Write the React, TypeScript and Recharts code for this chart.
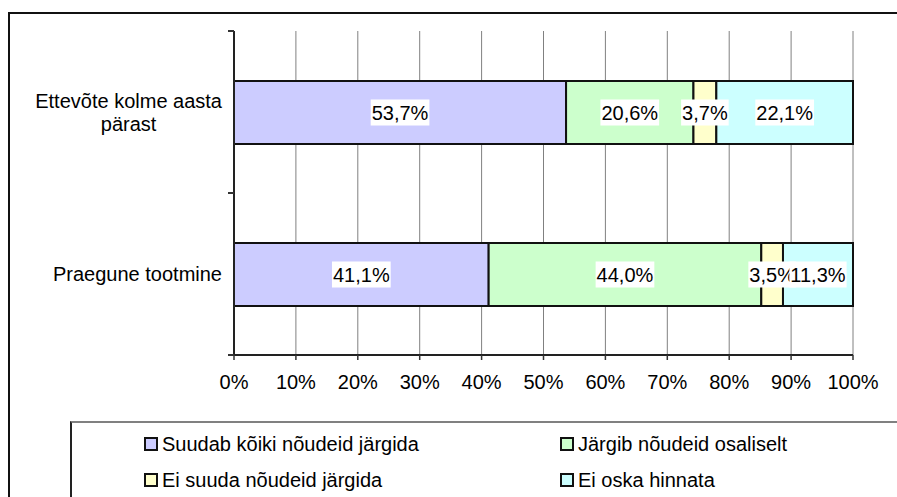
import { BarChart, Bar, XAxis, YAxis, CartesianGrid, LabelList } from "recharts";

const categories = ["Ettevõte kolme aasta pärast", "Praegune tootmine"];
const suudab = [53.7, 41.1];
const jargib = [20.6, 44.0];
const eiSuuda = [3.7, 3.5];
const eiOska = [22.1, 11.3];
const xTicks = [0, 0.1, 0.2, 0.3, 0.4, 0.5, 0.6, 0.7, 0.8, 0.9, 1];

const series = [
  { key: "suudab", name: "Suudab kõiki nõudeid järgida", color: "#CCCCFF", values: suudab },
  { key: "jargib", name: "Järgib nõudeid osaliselt", color: "#CCFFCC", values: jargib },
  { key: "eiSuuda", name: "Ei suuda nõudeid järgida", color: "#FFFFCC", values: eiSuuda },
  { key: "eiOska", name: "Ei oska hinnata", color: "#CCFFFF", values: eiOska },
];

const data = categories.map((name, i) => {
  const row: any = { name };
  series.forEach((s) => (row[s.key] = s.values[i]));
  return row;
});

const FONT = '"Liberation Sans", Arial, sans-serif';
const FS = 20;

const ctx = typeof document !== "undefined" ? document.createElement("canvas").getContext("2d") : null;
function textWidth(s: string) {
  if (!ctx) return s.length * FS * 0.5;
  ctx.font = `${FS}px ${FONT}`;
  return ctx.measureText(s).width;
}

function wrap(s: string, max: number) {
  const words = s.split(" ");
  const lines: string[] = [];
  let cur = "";
  words.forEach((w) => {
    const next = cur ? cur + " " + w : w;
    if (cur && textWidth(next) > max) {
      lines.push(cur);
      cur = w;
    } else cur = next;
  });
  if (cur) lines.push(cur);
  return lines;
}

const fmt = (v: number) => v.toFixed(1).replace(".", ",") + "%";

function CategoryTick(props: any) {
  const { x, y, payload } = props;
  const lines = wrap(payload.value, 200);
  const w = Math.max(...lines.map(textWidth));
  const cx = x - w / 2;
  const lh = 23;
  const y0 = y - ((lines.length - 1) * lh) / 2;
  return (
    <g>
      <line x1={x + 6} x2={x + 12} y1={y - 81} y2={y - 81} stroke="#333" strokeWidth={2} />
      <line x1={x + 6} x2={x + 12} y1={y + 81} y2={y + 81} stroke="#333" strokeWidth={2} />
      <text x={cx} y={y0} textAnchor="middle" fontFamily={FONT} fontSize={FS} fill="#000">
        {lines.map((l, i) => (
          <tspan key={i} x={cx} y={y0 + i * lh} dy="0.35em">
            {l}
          </tspan>
        ))}
      </text>
    </g>
  );
}

function SegmentLabel(props: any) {
  const { x, y, width, height, value } = props;
  const s = fmt(Number(value));
  const w = textWidth(s) + 2;
  const cx = x + width / 2;
  const cy = y + height / 2;
  return (
    <g>
      <rect x={cx - w / 2} y={cy - 13} width={w} height={26} fill="#fff" />
      <text x={cx} y={cy} dy="0.35em" textAnchor="middle" fontFamily={FONT} fontSize={FS} fill="#000">
        {s}
      </text>
    </g>
  );
}

const legendCols = [72, 488];
const legendRows = [21, 57];

export default function App() {
  return (
    <div style={{ position: "absolute", left: 0, top: 0, width: 897, height: 497, overflow: "hidden", background: "#fff", fontFamily: FONT }}>
      <div style={{ position: "absolute", left: 8, top: 12, width: 1000, height: 600, borderLeft: "2px solid #111", borderTop: "2px solid #111" }} />
      <BarChart
        width={897}
        height={497}
        data={data}
        layout="vertical"
        stackOffset="expand"
        margin={{ top: 31, right: 44, left: 0, bottom: 102 }}
        style={{ position: "absolute", left: 0, top: 0 }}
      >
        <CartesianGrid horizontal={false} stroke="#808080" strokeWidth={1} />
        <XAxis
          type="number"
          domain={[0, 1]}
          ticks={xTicks}
          tickFormatter={(v: number) => `${Math.round(v * 100)}%`}
          tickSize={5}
          tickMargin={15}
          height={40}
          axisLine={{ stroke: "#222", strokeWidth: 2 }}
          tickLine={{ stroke: "#333", strokeWidth: 1.5 }}
          tick={{ fontFamily: FONT, fontSize: FS, fill: "#000" }}
        />
        <XAxis
          xAxisId="top"
          orientation="top"
          type="number"
          domain={[0, 1]}
          height={0}
          tick={false}
          tickLine={false}
          axisLine={{ stroke: "#808080", strokeWidth: 2 }}
        />
        <YAxis
          type="category"
          dataKey="name"
          width={234}
          tickSize={0}
          tickMargin={12}
          axisLine={{ stroke: "#222", strokeWidth: 2 }}
          tickLine={false}
          tick={<CategoryTick />}
        />
        {series.map((s) => (
          <Bar key={s.key} dataKey={s.key} name={s.name} stackId="a" fill={s.color} stroke="#111" strokeWidth={2} barSize={63} isAnimationActive={false}>
            <LabelList dataKey={s.key} content={<SegmentLabel />} />
          </Bar>
        ))}
      </BarChart>
      <div style={{ position: "absolute", left: 70, top: 421, width: 900, height: 74, borderLeft: "2px solid #222", borderTop: "2px solid #808080", borderBottom: "2px solid #808080", background: "#fff" }}>
        {series.map((s, i) => (
          <div
            key={s.key}
            style={{ position: "absolute", left: legendCols[i % 2], top: legendRows[Math.floor(i / 2)] - 12, height: 24, display: "flex", alignItems: "center", fontSize: FS, color: "#000", whiteSpace: "nowrap" }}
          >
            <span style={{ display: "inline-block", width: 10, height: 10, border: "2px solid #111", background: s.color, marginRight: 4 }} />
            {s.name}
          </div>
        ))}
      </div>
    </div>
  );
}
